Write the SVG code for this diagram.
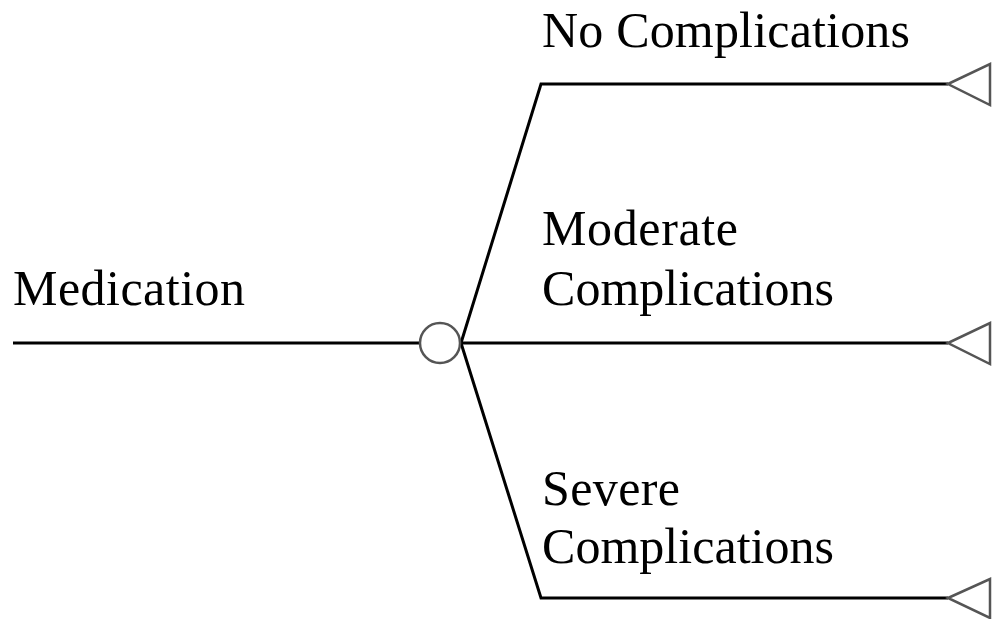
<svg xmlns="http://www.w3.org/2000/svg" width="997" height="619" viewBox="0 0 997 619">
<style>
.t{font-family:'Liberation Serif','DejaVu Serif',serif;font-size:50px;fill:#000}
.l{stroke:#000;stroke-width:3;fill:none}
.n{stroke:#555;stroke-width:2.5;fill:#fff}
</style>
<rect width="997" height="619" fill="#fff"/>
<g id="connectors">
<line class="l" x1="13" y1="343" x2="419" y2="343"/>
<polyline class="l" points="461,343 541,84 948,84"/>
<line class="l" x1="461" y1="343" x2="948" y2="343"/>
<polyline class="l" points="461,343 541,598 948,598"/>
</g>
<g id="chance"><circle class="n" cx="440" cy="343" r="20"/></g>
<g id="end1"><polygon class="n" points="948,84 990,64 990,105"/></g>
<g id="end2"><polygon class="n" points="948,343 990,323 990,364"/></g>
<g id="end3"><polygon class="n" points="948,598 990,579 990,618"/></g>
<g id="labels">
<text class="t" x="13" y="305" textLength="232">Medication</text>
<text class="t" x="542" y="47" textLength="368">No Complications</text>
<text class="t" x="542" y="245" textLength="196">Moderate</text>
<text class="t" x="542" y="305" textLength="292">Complications</text>
<text class="t" x="542" y="505" textLength="138">Severe</text>
<text class="t" x="542" y="563" textLength="292">Complications</text>
</g>
</svg>
